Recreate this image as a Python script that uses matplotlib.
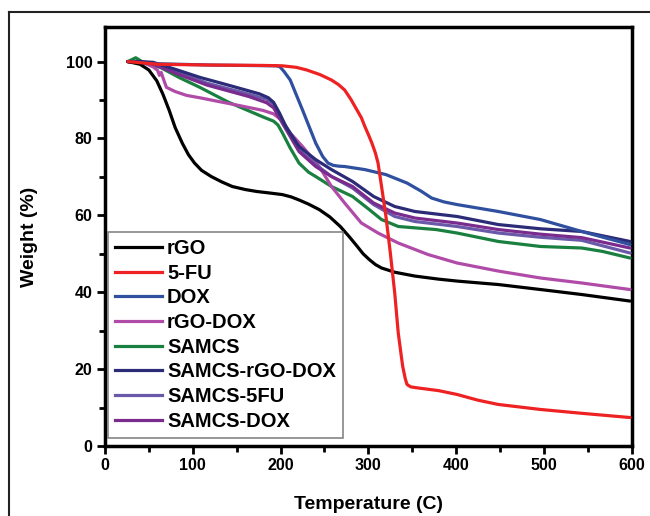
import matplotlib
matplotlib.use("Agg")
import matplotlib.pyplot as plt
from matplotlib.lines import Line2D
from matplotlib.ticker import MultipleLocator

plt.rcParams['font.family'] = ['Liberation Sans', 'DejaVu Sans']
plt.rcParams['font.weight'] = 'bold'

# TGA curves (temperature in C, weight in %)
rgo_t = [26, 40, 50, 59, 66, 73, 80, 88, 95, 102, 110, 121, 133, 145, 160, 173, 188, 202, 212, 221, 232, 244, 256, 268, 278, 287, 294, 301, 308, 315, 330, 353, 380, 401, 448, 496, 543, 598]
rgo_w = [100, 99.3, 97.8, 95, 91.5, 87.4, 82.8, 78.8, 75.8, 73.6, 71.7, 70.1, 68.7, 67.5, 66.7, 66.2, 65.8, 65.4, 64.8, 64, 62.9, 61.5, 59.6, 57.1, 54.5, 52, 50, 48.5, 47.2, 46.3, 45.2, 44.2, 43.4, 42.9, 42, 40.7, 39.4, 37.7]

fu_t = [26, 60, 120, 180, 202, 218, 230, 245, 258, 266, 273, 280, 287, 292, 296, 300, 304, 308, 311, 315, 320, 325, 330, 334, 339, 342, 344, 348, 353, 380, 401, 425, 448, 496, 543, 598]
fu_w = [100, 99.3, 99.1, 99, 98.9, 98.5, 97.8, 96.6, 95.2, 94, 92.6, 90.2, 87.4, 85.4, 83.1, 81, 78.8, 76.2, 73.6, 67.5, 59.7, 50.2, 39.8, 29.4, 20.8, 17.5, 16, 15.4, 15.2, 14.4, 13.4, 11.9, 10.8, 9.5, 8.5, 7.4]

dox_t = [26, 50, 120, 195, 199, 204, 211, 225, 240, 248, 254, 260, 266, 273, 296, 320, 344, 360, 372, 386, 401, 448, 496, 543, 598]
dox_w = [100, 99.5, 99.1, 98.9, 98.7, 97.4, 95.2, 87.4, 78.8, 75.3, 73.6, 73, 72.8, 72.7, 71.9, 70.6, 68.4, 66.3, 64.5, 63.5, 62.8, 61, 58.9, 55.8, 52.4]

rgodox_t = [26, 45, 55, 60, 62, 64, 67, 70, 80, 93, 110, 123, 150, 180, 192, 202, 211, 225, 244, 258, 273, 292, 311, 334, 368, 401, 448, 496, 543, 598]
rgodox_w = [100, 99.6, 98.6, 97.7, 96.4, 97.2, 95.2, 93.3, 92.2, 91.2, 90.5, 89.9, 88.7, 87.3, 86.4, 84.6, 81.4, 77.9, 72.7, 67.5, 63.2, 58, 55.4, 52.8, 49.8, 47.6, 45.5, 43.7, 42.4, 40.7]

samcs_t = [26, 35, 45, 63, 85, 108, 140, 180, 192, 197, 202, 211, 221, 232, 240, 258, 282, 301, 315, 334, 377, 401, 448, 496, 543, 567, 598]
samcs_w = [100, 101, 99.6, 98.5, 95.8, 93.3, 89.5, 85.6, 84.5, 83.5, 81.5, 77.5, 73.6, 71.2, 70.1, 67.5, 64.9, 61.5, 58.9, 57.1, 56.3, 55.4, 53.2, 51.9, 51.5, 50.6, 48.9]

srd_t = [26, 40, 55, 80, 108, 140, 176, 186, 192, 199, 206, 221, 240, 258, 282, 306, 330, 353, 401, 448, 496, 543, 598]
srd_w = [100, 100, 99.8, 98, 95.9, 93.9, 91.6, 90.6, 89.4, 86.5, 83.1, 77.9, 74.5, 71.9, 68.8, 64.9, 62.3, 61, 59.7, 57.6, 56.5, 55.8, 53.2]

s5fu_t = [26, 40, 55, 80, 116, 164, 184, 192, 202, 221, 240, 258, 282, 306, 330, 353, 401, 448, 496, 543, 598]
s5fu_w = [100, 100, 99.5, 97.5, 94.4, 91.5, 90.2, 89, 84.8, 77, 73.2, 70.1, 67.1, 62.8, 59.7, 58.4, 57.1, 55.4, 54.3, 53.5, 50.2]

sdox_t = [26, 40, 55, 80, 116, 164, 184, 192, 202, 221, 240, 258, 282, 306, 330, 353, 401, 448, 496, 543, 598]
sdox_w = [100, 100, 99.3, 97, 93.9, 90.9, 89.3, 88, 84, 76.6, 72.7, 70.1, 67.5, 63.2, 60.6, 59.3, 58, 56.3, 55.1, 54.2, 51.5]

labels = ['rGO', '5-FU', 'DOX', 'rGO-DOX', 'SAMCS', 'SAMCS-rGO-DOX', 'SAMCS-5FU', 'SAMCS-DOX']
colors = ['#000000', '#ee2222', '#2f4f9f', '#b04ca8', '#1a8040', '#2b2b78', '#6a58a8', '#7a2b8e']
series = [(rgo_t, rgo_w), (fu_t, fu_w), (dox_t, dox_w), (rgodox_t, rgodox_w),
          (samcs_t, samcs_w), (srd_t, srd_w), (s5fu_t, s5fu_w), (sdox_t, sdox_w)]

fig = plt.figure(figsize=(6.5, 5.16), dpi=100)
ax = fig.add_axes([0.1615, 0.1357, 0.8105, 0.812])

# draw order: background curves first so navy/black sit on top like the figure
order = [4, 3, 6, 7, 5, 2, 0, 1]
for k, i in enumerate(order):
    t, w = series[i]
    ax.plot(t, w, color=colors[i], lw=2.3, zorder=3 + k * 0.1,
            solid_joinstyle='round', solid_capstyle='round')

ax.set_xlim(0, 600)
ax.set_ylim(0, 109)
ax.xaxis.set_major_locator(MultipleLocator(100))
ax.xaxis.set_minor_locator(MultipleLocator(50))
ax.yaxis.set_major_locator(MultipleLocator(20))
ax.yaxis.set_minor_locator(MultipleLocator(10))
ax.tick_params(which='major', direction='out', length=5.5, width=2, labelsize=11.5, top=False, right=False)
ax.tick_params(which='minor', direction='out', length=4, width=2, top=False, right=False)
for lab in ax.get_xticklabels() + ax.get_yticklabels():
    lab.set_fontweight('bold')
for sp in ax.spines.values():
    sp.set_linewidth(2.5)

ax.set_xlabel('Temperature (C)', fontsize=14, fontweight='bold', labelpad=16)
ax.set_ylabel('Weight (%)', fontsize=14, fontweight='bold', labelpad=20)

handles = [Line2D([0], [0], color=c, lw=2.3) for c in colors]
leg = ax.legend(handles, labels, loc='lower left', bbox_to_anchor=(0.005, 0.02),
                fontsize=14.5, frameon=True, fancybox=False, handlelength=2.35,
                handletextpad=0.25, labelspacing=0.28, borderpad=0.35, borderaxespad=0)
leg.get_frame().set_edgecolor('#666666')
leg.get_frame().set_linewidth(1.2)
for txt in leg.get_texts():
    txt.set_fontweight('bold')

# outer frame of the figure panel
fig.add_artist(Line2D([9 / 650, 9 / 650], [0, 1 - 12 / 516], transform=fig.transFigure, color='#222222', lw=1.5))
fig.add_artist(Line2D([9 / 650, 1], [1 - 12 / 516, 1 - 12 / 516], transform=fig.transFigure, color='#222222', lw=1.5))

fig.savefig('out.png', dpi=100)
